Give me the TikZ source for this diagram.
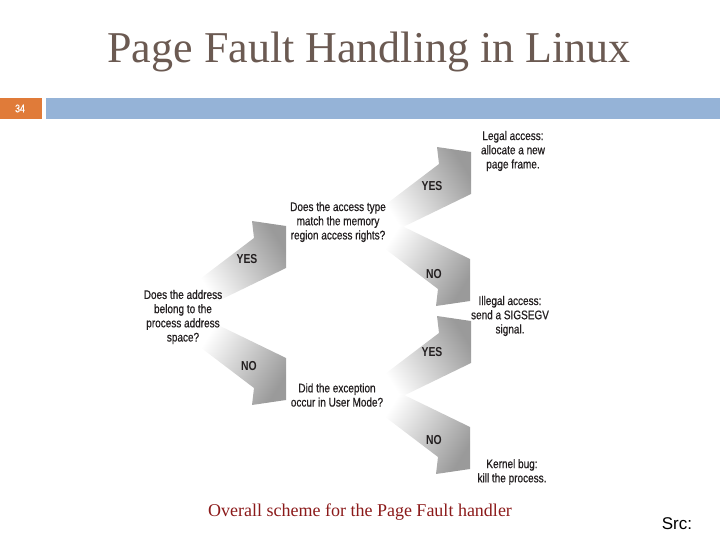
\documentclass[tikz,border=0pt]{standalone}
\usepackage{fontspec}
\setmainfont{Liberation Serif}
\newfontfamily\cond[FakeStretch=0.80, FakeBold=0.6]{Liberation Sans}
\newfontfamily\condb[FakeStretch=0.80]{Liberation Sans Bold}
\newfontfamily\arialf{Liberation Sans}
\definecolor{titlec}{HTML}{6B5A52}
\definecolor{barblue}{HTML}{95B3D7}
\definecolor{barorange}{HTML}{E07B39}
\definecolor{capred}{HTML}{8B1A1A}
\definecolor{txt}{HTML}{231F20}
\definecolor{arrgray}{HTML}{9A9A9A}
\tikzset{
  qtext/.style={align=center, inner sep=0pt, text=txt, font=\cond\fontsize{12.5}{14.2}\selectfont},
  yn/.style={inner sep=0pt, text=txt, font=\condb\fontsize{13}{14}\selectfont},
  uparr/.pic={\shade[top color=arrgray, bottom color=white, shading angle=-58]
     (-90,14) -- (-32,-30) -- (-34,-47) -- (0,-42) -- (0,0) -- (-70,34) -- cycle;},
  dnarr/.pic={\shade[top color=arrgray, bottom color=white, shading angle=-122]
     (-90,-14) -- (-32,30) -- (-34,47) -- (0,42) -- (0,0) -- (-70,-34) -- cycle;}
}
\begin{document}
\begin{tikzpicture}[x=1pt,y=-1pt]
\useasboundingbox (0,0) rectangle (720,540);
% title
\node[text=titlec, font=\fontsize{44}{48}\selectfont] (title) at (369,52) {Page Fault Handling in Linux};
% header bar
\fill[barorange] (0,98) rectangle (42,119);
\fill[barblue] (46,98) rectangle (720,119);
\node[text=white, font=\cond\fontsize{11}{12}\selectfont] (num) at (20,108.5) {34};
% arrows
\pic at (286,268) {uparr};
\pic at (286,358) {dnarr};
\pic at (471,194) {uparr};
\pic at (470,259) {dnarr};
\pic at (471,363) {uparr};
\pic at (470,427) {dnarr};
% questions / outcomes
\node[qtext] (q1) at (183,317) {Does the address\\belong to the\\process address\\space?};
\node[qtext] (q2) at (338,222) {Does the access type\\match the memory\\region access rights?};
\node[qtext] (q3) at (337,395) {Did the exception\\occur in User Mode?};
\node[qtext] (legal) at (513,151) {Legal access:\\allocate a new\\page frame.};
\node[qtext] (illegal) at (510,316) {Illegal access:\\send a SIGSEGV\\signal.};
\node[qtext] (kbug) at (512,472) {Kernel bug:\\kill the process.};
% labels
\node[yn] (y1) at (247,259) {YES};
\node[yn] (n1) at (249,366) {NO};
\node[yn] (y2) at (432,186) {YES};
\node[yn] (n2) at (434,274) {NO};
\node[yn] (y3) at (432,352) {YES};
\node[yn] (n3) at (434,440) {NO};
% caption
\node[text=capred, font=\fontsize{18}{20}\selectfont] (cap) at (360,512) {Overall scheme for the Page Fault handler};
\node[text=black, font=\arialf\fontsize{17}{19}\selectfont] (src) at (677,524) {Src:};
\end{tikzpicture}
\end{document}
